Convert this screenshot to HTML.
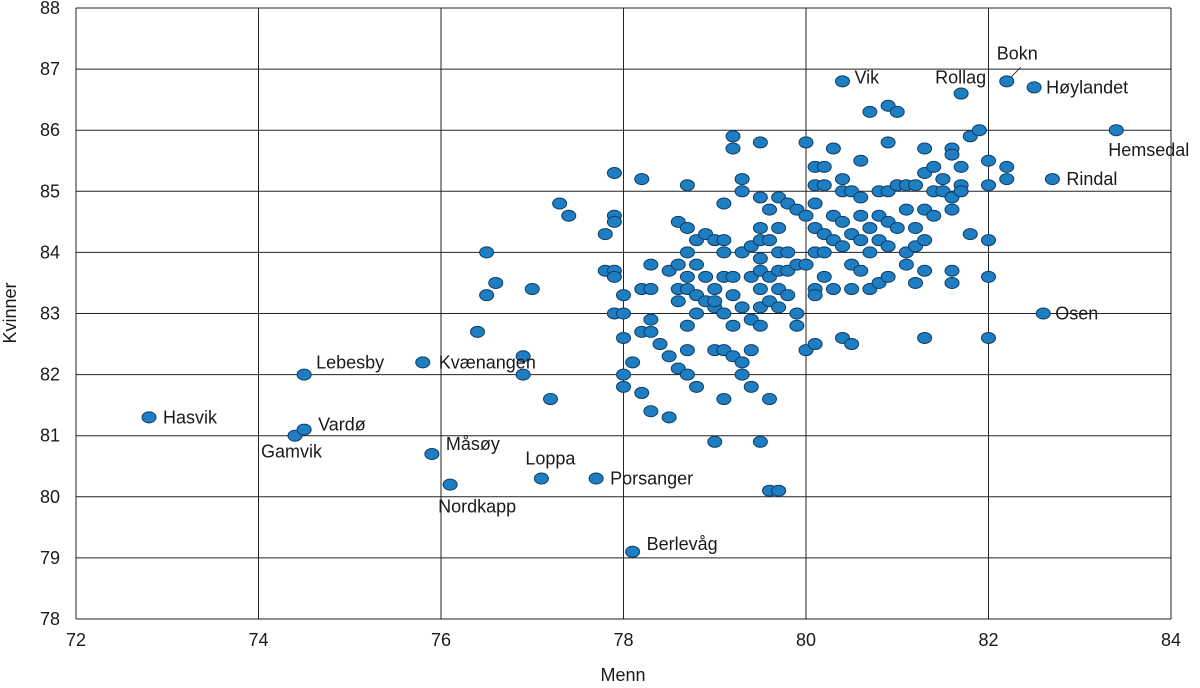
<!DOCTYPE html>
<html><head><meta charset="utf-8"><style>
html,body{margin:0;padding:0;background:#fff}
svg text{font-family:"Liberation Sans",sans-serif;fill:#1a1a1a}
</style></head><body>
<svg id="chart" width="1200" height="683" viewBox="0 0 1200 683" xmlns="http://www.w3.org/2000/svg">
<g id="grid"></g>
<g id="axes"></g>
<g id="points"></g>
<g id="labels"></g>
<text x="623" y="681" text-anchor="middle" font-size="18">Menn</text>
<text transform="translate(16,313) rotate(-90)" text-anchor="middle" font-size="18">Kvinner</text>
</svg>
<script>
const xTicks=[72,74,76,78,80,82,84];
const yTicks=[78,79,80,81,82,83,84,85,86,87,88];
const menn=[76.4,76.5,76.5,76.6,77.0,76.9,76.9,77.2,77.3,77.4,77.8,77.8,77.9,77.9,77.9,77.9,77.9,77.9,78.0,78.0,78.0,78.0,78.0,78.1,78.2,78.2,78.2,78.2,78.3,78.3,78.3,78.3,78.3,78.4,78.5,78.5,78.5,78.6,78.6,78.6,78.6,78.6,78.7,78.7,78.7,78.7,78.7,78.7,78.7,78.7,78.8,78.8,78.8,78.8,78.8,78.9,78.9,78.9,79.0,79.0,79.0,79.0,79.0,79.0,79.1,79.1,79.1,79.1,79.1,79.1,79.1,79.2,79.2,79.2,79.2,79.2,79.2,79.3,79.3,79.3,79.3,79.3,79.3,79.4,79.4,79.4,79.4,79.4,79.5,79.5,79.5,79.5,79.5,79.5,79.5,79.5,79.5,79.5,79.6,79.6,79.6,79.6,79.6,79.6,79.7,79.7,79.7,79.7,79.7,79.7,79.7,79.8,79.8,79.8,79.8,79.9,79.9,79.9,79.9,80.0,80.0,80.0,80.0,80.1,80.1,80.1,80.1,80.1,80.1,80.1,80.1,80.2,80.2,80.2,80.2,80.2,80.3,80.3,80.3,80.3,80.4,80.4,80.4,80.4,80.4,80.5,80.5,80.5,80.5,80.5,80.6,80.6,80.6,80.6,80.6,80.7,80.7,80.7,80.7,80.8,80.8,80.8,80.8,80.9,80.9,80.9,80.9,80.9,80.9,81.0,81.0,81.0,81.1,81.1,81.1,81.1,81.2,81.2,81.2,81.2,81.3,81.3,81.3,81.3,81.3,81.3,81.4,81.4,81.4,81.5,81.5,81.6,81.6,81.6,81.6,81.6,81.6,81.7,81.7,81.7,81.8,81.8,81.9,82.0,82.0,82.0,82.0,82.0,82.2,82.2];
const kvinner=[82.7,84.0,83.3,83.5,83.4,82.3,82.0,81.6,84.8,84.6,84.3,83.7,83.7,83.6,85.3,84.6,84.5,83.0,83.0,83.3,82.6,82.0,81.8,82.2,82.7,81.7,83.4,85.2,83.4,83.8,82.9,82.7,81.4,82.5,81.3,82.3,83.7,83.8,82.1,84.5,83.4,83.2,85.1,84.4,84.0,83.6,83.4,82.8,82.4,82.0,83.8,83.0,81.8,83.3,84.2,83.2,83.6,84.3,83.4,83.1,82.4,80.9,83.2,84.2,82.4,83.6,84.8,81.6,83.0,84.0,84.2,85.9,85.7,82.3,83.6,83.3,82.8,84.0,82.2,82.0,83.1,85.0,85.2,84.1,83.6,82.9,82.4,81.8,85.8,84.9,84.4,84.2,83.9,83.7,83.4,83.1,82.8,80.9,84.7,84.2,83.6,83.2,81.6,80.1,80.1,84.9,84.4,84.0,83.7,83.4,83.1,84.8,84.0,83.7,83.3,84.7,83.8,83.0,82.8,85.8,84.6,83.8,82.4,85.1,85.4,84.8,84.4,84.0,83.4,83.3,82.5,85.4,85.1,84.3,83.6,84.0,85.7,84.6,84.2,83.4,85.2,85.0,84.5,84.1,82.6,85.0,84.3,83.8,83.4,82.5,85.5,84.9,84.6,84.2,83.7,86.3,84.4,84.0,83.4,85.0,84.6,84.2,83.5,86.4,85.8,85.0,84.5,84.1,83.6,86.3,85.1,84.4,85.1,84.7,84.0,83.8,85.1,84.4,84.1,83.5,85.7,85.3,84.7,84.2,83.7,82.6,85.4,85.0,84.6,85.2,85.0,85.7,85.6,84.9,84.7,83.7,83.5,85.4,85.1,85.0,85.9,84.3,86.0,85.5,85.1,84.2,83.6,82.6,85.4,85.2];
const names=["Hasvik","Gamvik","Vardø","Lebesby","Kvænangen","Måsøy","Nordkapp","Loppa","Porsanger","Berlevåg","Vik","Rollag","Bokn","Høylandet","Hemsedal","Rindal","Osen"];
const namedMenn=[72.8,74.4,74.5,74.5,75.8,75.9,76.1,77.1,77.7,78.1,80.4,81.7,82.2,82.5,83.4,82.7,82.6];
const namedKvinner=[81.3,81.0,81.1,82.0,82.2,80.7,80.2,80.3,80.3,79.1,86.8,86.6,86.8,86.7,86.0,85.2,83.0];
// label placement offsets (layout, not data)
const lblOff={"Hasvik":[14,6,"start"],"Gamvik":[-34,22,"start"],"Vardø":[14,1,"start"],"Lebesby":[12,-6,"start"],"Kvænangen":[16,6,"start"],"Måsøy":[14,-4,"start"],"Nordkapp":[-12,28,"start"],"Loppa":[-16,-14,"start"],"Porsanger":[14,6,"start"],"Berlevåg":[14,-2,"start"],"Vik":[12,2,"start"],"Rollag":[-26,-10,"start"],"Bokn":[-10,-22,"start"],"Høylandet":[12,6,"start"],"Hemsedal":[-8,26,"start"],"Rindal":[14,6,"start"],"Osen":[12,6,"start"]};
const L=76,R=1171,T=8,B=619;
const xs=v=>L+(v-72)/12*(R-L);
const ys=v=>B-(v-78)/10*(B-T);
const NS="http://www.w3.org/2000/svg";
function mk(tag,parent){const e=document.createElementNS(NS,tag);parent.appendChild(e);return e;}
const grid=document.getElementById('grid'),axes=document.getElementById('axes'),pts=document.getElementById('points'),lbls=document.getElementById('labels');
xTicks.forEach(t=>{
 const l=mk('line',grid);
 
 
 l.setAttribute('x1',xs(t));l.setAttribute('x2',xs(t));l.setAttribute('y1',T);l.setAttribute('y2',B);
 l.setAttribute('stroke','#222');l.setAttribute('stroke-width','1');
 const tx=mk('text',axes);
 
 
 tx.setAttribute('x',xs(t));tx.setAttribute('y',646);tx.setAttribute('text-anchor','middle');tx.setAttribute('font-size','18');
 tx.textContent=t;
});
yTicks.forEach(t=>{
 const l=mk('line',grid);
 
 
 l.setAttribute('x1',L);l.setAttribute('x2',R);l.setAttribute('y1',ys(t));l.setAttribute('y2',ys(t));
 l.setAttribute('stroke','#222');l.setAttribute('stroke-width','1');
 const tx=mk('text',axes);
 
 
 tx.setAttribute('x',60);tx.setAttribute('y',ys(t)+6);tx.setAttribute('text-anchor','end');tx.setAttribute('font-size','18');
 tx.textContent=t;
});
function dot(x,y){
 const c=mk('ellipse',pts);
 
 
 c.setAttribute('cx',xs(x));c.setAttribute('cy',ys(y));c.setAttribute('rx',7);c.setAttribute('ry',5.5);
 c.setAttribute('fill','#1f7ec2');c.setAttribute('stroke','#0d3d66');c.setAttribute('stroke-width','1');
}
menn.forEach((m,i)=>dot(m,kvinner[i]));
names.forEach((n,i)=>{
 dot(namedMenn[i],namedKvinner[i]);
 const o=lblOff[n];
 const tx=mk('text',lbls);
 
 
 tx.setAttribute('x',xs(namedMenn[i])+o[0]);tx.setAttribute('y',ys(namedKvinner[i])+o[1]);
 tx.setAttribute('text-anchor',o[2]);tx.setAttribute('font-size','18');
 tx.textContent=n;
 if(n==="Bokn"){
  const l=mk('line',lbls);
  
  
  l.setAttribute('x1',xs(namedMenn[i])+4);l.setAttribute('y1',ys(namedKvinner[i])-4);
  l.setAttribute('x2',xs(namedMenn[i])+14);l.setAttribute('y2',ys(namedKvinner[i])-14);
  l.setAttribute('stroke','#333');
 }
});
</script>
</body></html>
